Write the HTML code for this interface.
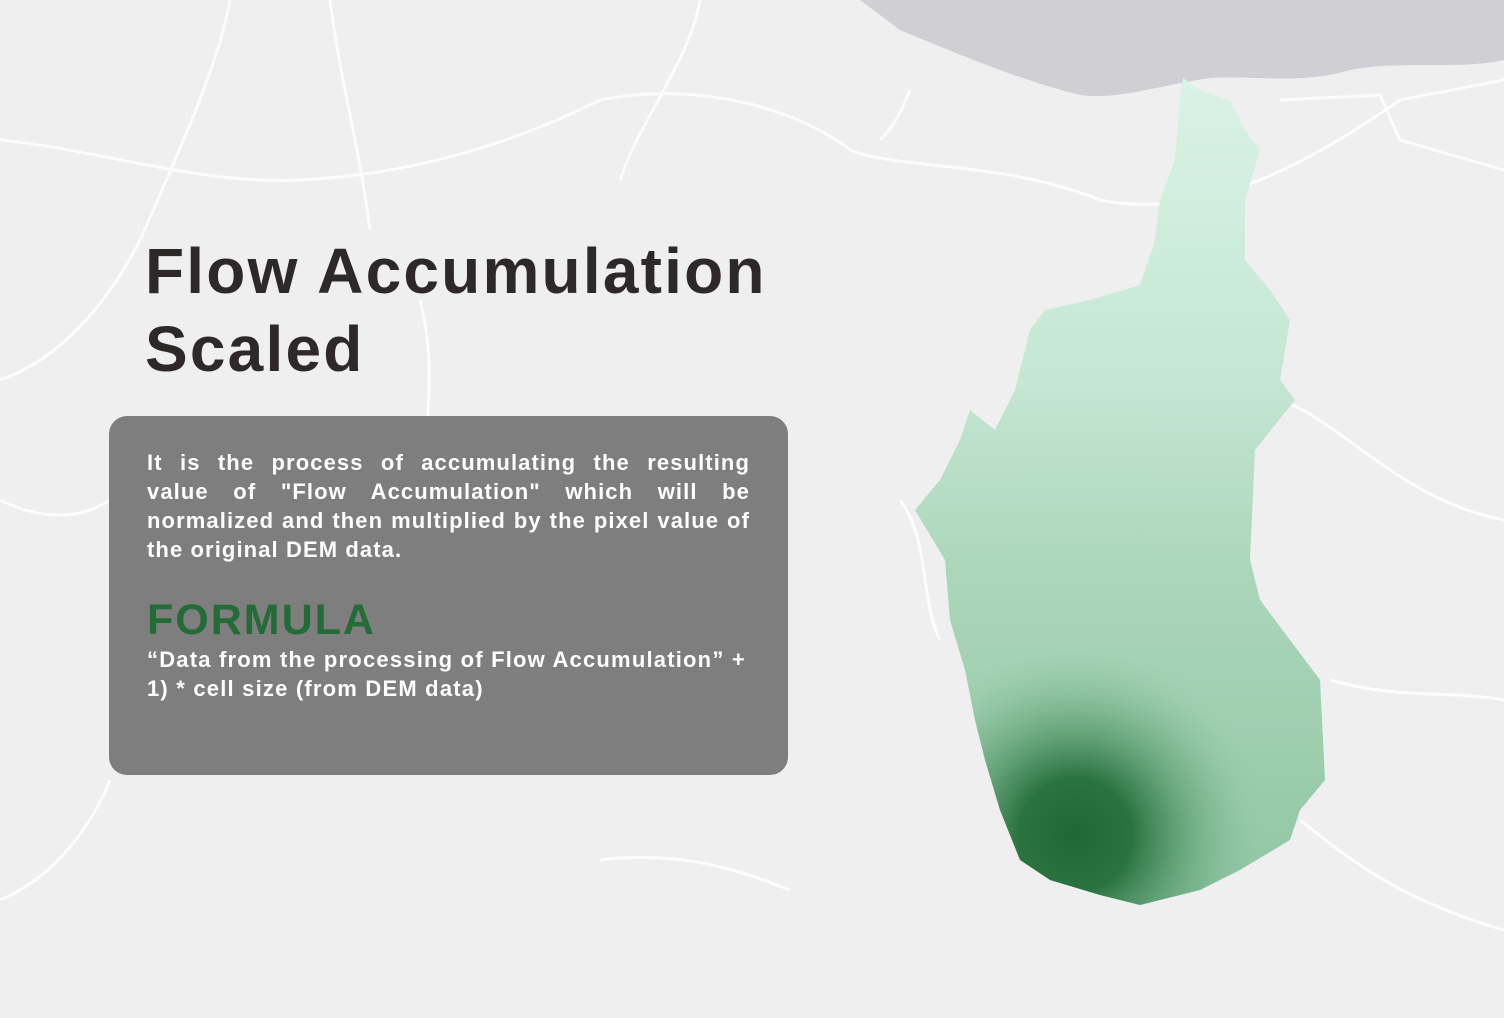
<!DOCTYPE html>
<html><head><meta charset="utf-8">
<style>
html,body{margin:0;padding:0;}
body{width:1504px;height:1018px;overflow:hidden;background:#efefef;position:relative;font-family:"Liberation Sans",sans-serif;}
svg{position:absolute;left:0;top:0;}
.title{position:absolute;left:145px;top:232px;font-size:64px;font-weight:bold;color:#2d2929;line-height:78px;margin:0;letter-spacing:2.2px;white-space:nowrap;}
.box{position:absolute;left:109px;top:416px;width:679px;height:359px;background:#7f7e7e;border-radius:18px;}
.desc{position:absolute;left:38px;top:32px;width:603px;color:#fff;font-weight:bold;font-size:22px;line-height:29px;margin:0;letter-spacing:1.1px;}
.desc span{display:block;white-space:nowrap;}
.desc span.j{text-align:justify;text-align-last:justify;white-space:normal;}
.fh{position:absolute;left:38px;top:178px;color:#236b37;font-weight:bold;font-size:43px;margin:0;line-height:52px;letter-spacing:2px;}
.ft{position:absolute;left:38px;top:229px;width:620px;color:#fff;font-weight:bold;font-size:22px;line-height:29px;margin:0;letter-spacing:1.2px;white-space:nowrap;}
</style></head>
<body>
<svg width="1504" height="1018">
<defs>
<linearGradient id="lg" x1="0" y1="0" x2="0" y2="1">
<stop offset="0" stop-color="#d9f2e6"/>
<stop offset="0.35" stop-color="#c6e7d5"/>
<stop offset="0.6" stop-color="#abd6ba"/>
<stop offset="1" stop-color="#90c6a3"/>
</linearGradient>
<radialGradient id="rg" cx="1075" cy="835" r="190" gradientUnits="userSpaceOnUse">
<stop offset="0" stop-color="#1f6836" stop-opacity="1"/>
<stop offset="0.3" stop-color="#256f3b" stop-opacity="0.95"/>
<stop offset="0.65" stop-color="#4f9465" stop-opacity="0.45"/>
<stop offset="1" stop-color="#8cc4a1" stop-opacity="0"/>
</radialGradient>
</defs>
<path d="M860,0 L1504,0 L1504,60 C1460,70 1400,60 1350,70 C1300,85 1250,75 1210,78 C1160,85 1120,100 1080,95 C1020,80 960,55 900,30 Z" fill="#cfcfd4"/>
<g fill="none" stroke="#fff" stroke-width="3" opacity="0.85">
<path d="M0,140 C100,150 200,185 300,180 C400,175 500,150 600,100 C700,80 800,110 850,150 C900,170 1000,160 1100,200 C1200,220 1300,170 1400,100 L1504,80"/>
<path d="M0,380 C60,360 110,300 140,240 C180,150 220,60 230,0"/>
<path d="M330,0 C340,80 360,150 370,230"/>
<path d="M420,300 C440,380 420,420 430,480"/>
<path d="M600,860 C680,850 740,870 790,890"/>
<path d="M0,900 C50,880 90,830 110,780"/>
<path d="M1300,820 C1350,860 1400,900 1504,930"/>
<path d="M1280,400 C1340,420 1400,500 1504,520"/>
<path d="M1280,100 L1380,95 L1400,140 L1504,170"/>
<path d="M900,500 C930,540 920,600 940,640"/>
<path d="M880,140 C900,120 905,100 910,90"/>
<path d="M700,0 C690,60 640,120 620,180"/>
<path d="M0,500 C40,520 80,520 110,500"/>
<path d="M1330,680 C1400,700 1450,690 1504,700"/>
</g>
<path d="M1183,78 L1200,90 L1230,100 L1245,130 L1260,150 L1245,200 L1245,260 L1270,290 L1290,320 L1280,380 L1295,400 L1255,450 L1250,560 L1260,600 L1290,640 L1320,680 L1325,780 L1300,810 L1290,840 L1240,870 L1200,890 L1140,905 L1100,895 L1050,880 L1020,860 L1000,810 L985,760 L975,720 L965,670 L950,620 L945,560 L915,510 L940,480 L960,440 L970,410 L995,430 L1015,390 L1030,330 L1045,310 L1090,300 L1140,285 L1155,240 L1160,200 L1175,160 L1180,100 Z" fill="url(#lg)"/>
<path d="M1183,78 L1200,90 L1230,100 L1245,130 L1260,150 L1245,200 L1245,260 L1270,290 L1290,320 L1280,380 L1295,400 L1255,450 L1250,560 L1260,600 L1290,640 L1320,680 L1325,780 L1300,810 L1290,840 L1240,870 L1200,890 L1140,905 L1100,895 L1050,880 L1020,860 L1000,810 L985,760 L975,720 L965,670 L950,620 L945,560 L915,510 L940,480 L960,440 L970,410 L995,430 L1015,390 L1030,330 L1045,310 L1090,300 L1140,285 L1155,240 L1160,200 L1175,160 L1180,100 Z" fill="url(#rg)"/>
</svg>
<h1 class="title">Flow Accumulation<br>Scaled</h1>
<div class="box">
<p class="desc"><span class="j">It is the process of accumulating the resulting</span><span class="j">value of "Flow Accumulation" which will be</span><span class="j">normalized and then multiplied by the pixel value of</span><span>the original DEM data.</span></p>
<p class="fh">FORMULA</p>
<p class="ft">“Data from the processing of Flow Accumulation” +<br>1) * cell size (from DEM data)</p>
</div>
</body></html>
